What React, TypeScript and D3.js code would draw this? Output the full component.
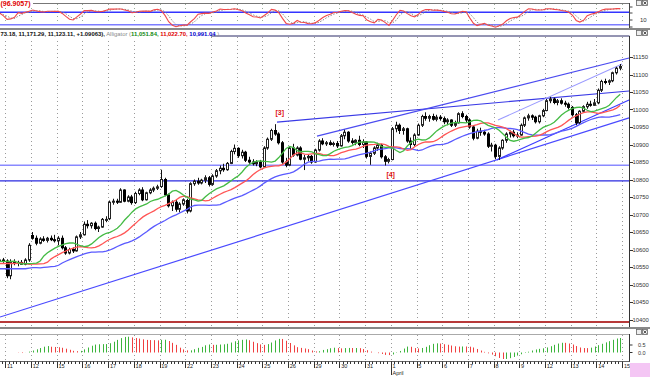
import React from "react";
import * as d3 from "d3";

type Bar = [number, number, number, number]; // open, high, low, close

// hourly bars, 7 per session
const mar10: Bar[] = [
  [10566, 10574, 10558, 10570], [10570, 10576, 10562, 10567],
];
const week1: Bar[] = [
  // Mar 11
  [10567, 10572, 10518, 10525], [10525, 10572, 10515, 10565], [10565, 10572, 10555, 10560], [10560, 10568, 10552, 10563],
  [10563, 10570, 10556, 10558], [10558, 10575, 10555, 10570], [10570, 10618, 10565, 10612],
  // Mar 12
  [10640, 10650, 10628, 10632], [10632, 10640, 10612, 10618], [10618, 10635, 10615, 10630], [10630, 10638, 10622, 10626],
  [10626, 10636, 10620, 10632], [10632, 10640, 10624, 10628], [10628, 10642, 10620, 10625],
];
const week2: Bar[] = [
  // Mar 15
  [10625, 10638, 10612, 10632], [10632, 10640, 10600, 10605], [10605, 10610, 10585, 10590], [10590, 10605, 10586, 10600],
  [10600, 10606, 10590, 10596], [10596, 10640, 10594, 10636], [10636, 10650, 10630, 10642],
  // Mar 16
  [10642, 10680, 10640, 10672], [10672, 10684, 10660, 10668], [10668, 10678, 10660, 10675], [10675, 10680, 10655, 10660],
  [10660, 10668, 10650, 10664], [10664, 10690, 10662, 10686], [10686, 10695, 10678, 10686],
  // Mar 17
  [10688, 10740, 10684, 10735], [10735, 10745, 10728, 10738], [10738, 10745, 10730, 10735], [10735, 10775, 10733, 10770],
  [10770, 10772, 10735, 10738], [10738, 10755, 10735, 10750], [10750, 10756, 10728, 10734],
  // Mar 18
  [10734, 10765, 10730, 10760], [10760, 10775, 10755, 10770], [10770, 10778, 10738, 10742], [10742, 10765, 10740, 10762],
  [10762, 10775, 10758, 10770], [10770, 10780, 10764, 10775], [10775, 10785, 10770, 10779],
  // Mar 19
  [10780, 10828, 10776, 10800], [10800, 10805, 10752, 10756], [10756, 10760, 10720, 10725], [10725, 10740, 10710, 10735],
  [10735, 10742, 10708, 10715], [10715, 10735, 10706, 10730], [10730, 10746, 10725, 10742],
];
const week3: Bar[] = [
  // Mar 22
  [10740, 10745, 10703, 10710], [10710, 10792, 10706, 10788], [10788, 10800, 10782, 10795], [10795, 10805, 10785, 10790],
  [10790, 10802, 10786, 10798], [10798, 10812, 10790, 10805], [10805, 10810, 10780, 10786],
  // Mar 23
  [10786, 10815, 10782, 10810], [10810, 10830, 10805, 10825], [10825, 10840, 10815, 10832], [10832, 10845, 10822, 10828],
  [10828, 10850, 10825, 10846], [10846, 10885, 10844, 10880], [10880, 10900, 10872, 10889],
  // Mar 24
  [10889, 10892, 10862, 10868], [10868, 10885, 10860, 10878], [10878, 10882, 10850, 10855], [10855, 10865, 10845, 10850],
  [10850, 10858, 10840, 10845], [10845, 10855, 10838, 10850], [10850, 10856, 10832, 10836],
  // Mar 25
  [10836, 10895, 10835, 10890], [10890, 10920, 10885, 10915], [10915, 10945, 10910, 10940], [10940, 10958, 10925, 10930],
  [10930, 10935, 10900, 10905], [10905, 10910, 10845, 10850], [10850, 10862, 10835, 10841],
  // Mar 26
  [10841, 10895, 10838, 10890], [10890, 10902, 10865, 10870], [10870, 10895, 10866, 10890], [10890, 10895, 10855, 10858],
  [10858, 10870, 10827, 10862], [10862, 10872, 10852, 10866], [10866, 10870, 10845, 10850],
];
const week4: Bar[] = [
  // Mar 29
  [10850, 10888, 10848, 10884], [10884, 10915, 10880, 10910], [10910, 10918, 10898, 10902], [10902, 10910, 10896, 10905],
  [10905, 10912, 10897, 10900], [10900, 10908, 10894, 10903], [10903, 10910, 10890, 10896],
  // Mar 30
  [10896, 10930, 10894, 10925], [10925, 10942, 10915, 10935], [10935, 10938, 10905, 10910], [10910, 10918, 10900, 10906],
  [10906, 10915, 10898, 10912], [10912, 10925, 10895, 10900], [10900, 10915, 10890, 10907],
  // Mar 31
  [10907, 10910, 10860, 10866], [10866, 10880, 10842, 10875], [10875, 10895, 10870, 10890], [10890, 10905, 10882, 10898],
  [10898, 10902, 10860, 10865], [10865, 10870, 10840, 10852], [10852, 10862, 10846, 10857],
  // Apr 1
  [10857, 10950, 10855, 10945], [10945, 10965, 10935, 10955], [10955, 10960, 10930, 10940], [10940, 10950, 10928, 10945],
  [10945, 10948, 10905, 10910], [10910, 10920, 10888, 10900], [10900, 10932, 10895, 10927],
];
const week5: Bar[] = [
  // Apr 5
  [10927, 10960, 10925, 10955], [10955, 10985, 10950, 10980], [10980, 10992, 10968, 10975], [10975, 10985, 10965, 10980],
  [10980, 10988, 10968, 10972], [10972, 10985, 10966, 10978], [10978, 10984, 10968, 10974],
  // Apr 6
  [10974, 10980, 10958, 10965], [10965, 10975, 10955, 10970], [10970, 10972, 10950, 10955], [10955, 10968, 10950, 10962],
  [10962, 10992, 10960, 10988], [10988, 10995, 10975, 10980], [10980, 10985, 10962, 10970],
  // Apr 7
  [10970, 10975, 10945, 10950], [10950, 10955, 10912, 10918], [10918, 10945, 10915, 10938], [10938, 10948, 10925, 10935],
  [10935, 10942, 10925, 10930], [10930, 10935, 10890, 10895], [10895, 10905, 10880, 10898],
  // Apr 8
  [10898, 10902, 10858, 10866], [10866, 10895, 10856, 10890], [10890, 10915, 10885, 10912], [10912, 10935, 10905, 10930],
  [10930, 10940, 10920, 10935], [10935, 10942, 10920, 10925], [10925, 10935, 10918, 10927],
  // Apr 9
  [10927, 10960, 10925, 10955], [10955, 10980, 10950, 10976], [10976, 10988, 10968, 10982], [10982, 10986, 10970, 10978],
  [10978, 10982, 10960, 10965], [10965, 10985, 10960, 10982], [10982, 11002, 10978, 10997],
];
const week6: Bar[] = [
  // Apr 12
  [10997, 11030, 10995, 11025], [11025, 11036, 11018, 11030], [11030, 11034, 11015, 11020], [11020, 11030, 11012, 11025],
  [11025, 11032, 11014, 11018], [11018, 11025, 11008, 11015], [11015, 11020, 11000, 11006],
  // Apr 13
  [11006, 11010, 10980, 10985], [10985, 10990, 10955, 10962], [10962, 10998, 10958, 10995], [10995, 11012, 10990, 11008],
  [11008, 11022, 11002, 11015], [11015, 11025, 11008, 11012], [11012, 11030, 11010, 11019],
  // Apr 14
  [11019, 11060, 11015, 11055], [11055, 11085, 11050, 11080], [11080, 11088, 11072, 11078], [11078, 11086, 11070, 11082],
  [11082, 11108, 11078, 11105], [11105, 11122, 11100, 11118], [11118, 11130, 11112, 11123],
];

const bars: Bar[] = [...mar10, ...week1, ...week2, ...week3, ...week4, ...week5, ...week6];
const OFF = mar10.length;

const dayLabels = ["11", "12", "15", "16", "17", "18", "19", "22", "23", "24", "25", "26", "29", "30", "31", "1", "5", "6", "7", "8", "9", "12", "13", "14", "15"];
const priceTicks = [10400, 10450, 10500, 10550, 10600, 10650, 10700, 10750, 10800, 10850, 10900, 10950, 11000, 11050, 11100, 11150];
const levels = [10841, 10796, 10393];
// [slot0, price0, slot1, price1]
const trendLines: [number, number, number, number][] = [
  [-1.44, 10407, 169.9, 10976],
  [74.0, 10964, 169.9, 11053],
  [84.9, 10924, 169.9, 11147],
  [134.2, 10970, 168.0, 11130],
  [133.9, 10856, 169.9, 11027],
];
const alligatorSeed = [10545, 10560, 10566]; // jaw, teeth, lips
const markers = [{ text: "[3]", slot: 73.6, price: 10985 }, { text: "[4]", slot: 103.8, price: 10808 }];
const headerParts = [
  { text: "73.18, 11,171.29, 11,123.11, +1.09063),", kind: "main" },
  { text: " Alligator (", kind: "muted" },
  { text: "11,051.84,", kind: "lips" },
  { text: " 11,022.70,", kind: "teeth" },
  { text: " 10,991.04", kind: "jaw" },
  { text: " )", kind: "muted" },
];

const levelStyle = [
  { color: "#8a8aff", w: 1.5 },
  { color: "#2a2ae0", w: 1.3 },
  { color: "#b83a3a", w: 2 },
];
const lineStyle = [
  { color: "#4a4aff", w: 1.2 },
  { color: "#3a3ae6", w: 1.1 },
  { color: "#4b4bf0", w: 1.1 },
  { color: "#9a9aff", w: 1.1 },
  { color: "#3d3dff", w: 1.2 },
];
const headerColor: Record<string, string> = { main: "#111", muted: "#8a8a8a", lips: "#118811", teeth: "#e00000", jaw: "#0000cc" };

// ---- indicators ----
const med = bars.map((b) => (b[1] + b[2]) / 2);
function smma(n: number, seed: number) {
  const out: number[] = [];
  let prev = seed;
  med.forEach((m) => {
    prev = (prev * (n - 1) + m) / n;
    out.push(prev);
  });
  return out;
}
function shifted(arr: number[], s: number, seed: number) {
  return arr.map((_, i) => (i - s >= 0 ? arr[i - s] : seed));
}
const jaw = shifted(smma(13, alligatorSeed[0]), 8, alligatorSeed[0]);
const teeth = shifted(smma(8, alligatorSeed[1]), 5, alligatorSeed[1]);
const lips = shifted(smma(5, alligatorSeed[2]), 3, alligatorSeed[2]);

function sma(arr: number[], n: number) {
  return arr.map((_, i) => d3.mean(arr.slice(Math.max(0, i - n + 1), i + 1)) as number);
}
const sma5 = sma(med, 5);
const sma34 = sma(med, 34);
const ao = sma5.map((v, i) => v - sma34[i]);

const rawK = bars.map((b, i) => {
  const w = bars.slice(Math.max(0, i - 13), i + 1);
  const hh = d3.max(w, (x) => x[1]) as number;
  const ll = d3.min(w, (x) => x[2]) as number;
  return hh === ll ? 50 : ((b[3] - ll) / (hh - ll)) * 100;
});
const stochK = sma(rawK, 3);
const stochD = sma(stochK, 3);

// ---- scales ----
const xs = d3.scaleLinear().domain([0, 168]).range([5.3, 622.1]);
const cx = (k: number) => xs(k - OFF + 0.5);
const ys = d3.scaleLinear().domain([10400, 11150]).range([319.5, 57]);
const ysto = d3.scaleLinear().domain([0, 100]).range([29, 8]);
const yao = d3.scaleLinear().domain([0, 50]).range([352.5, 345]);

const AX = 629.5;
const FONT = "'Liberation Sans', Arial, sans-serif";

export default function App() {
  const lineGen = (vals: number[], y: (v: number) => number) =>
    d3.line<number>().x((_, i) => cx(i)).y((v) => y(v))(vals) || "";

  const daySlots = dayLabels.map((_, d) => d * 7);

  return (
    <svg width={650} height={377} style={{ position: "fixed", left: 0, top: 0, background: "#fff" }}
      xmlns="http://www.w3.org/2000/svg">
      <defs>
        <clipPath id="cMain"><rect x={0} y={36} width={AX} height={291} /></clipPath>
        <clipPath id="cTop"><rect x={0} y={4} width={AX} height={24} /></clipPath>
        <clipPath id="cAo"><rect x={0} y={335} width={AX} height={26} /></clipPath>
      </defs>
      <rect width={650} height={377} fill="#fff" />

      {/* ====== top stochastic panel ====== */}
      <line x1={0} x2={AX} y1={3.5} y2={3.5} stroke="#777" />
      <g clipPath="url(#cTop)">
        {daySlots.map((s, i) => (
          <line key={i} x1={Math.round(xs(s)) + 0.5} x2={Math.round(xs(s)) + 0.5} y1={4} y2={28} stroke="#9a9" strokeDasharray="1,3" />
        ))}
        <line x1={0} x2={AX} y1={ysto(80)} y2={ysto(80)} stroke="#3434ff" strokeWidth={1.4} />
        <line x1={0} x2={AX} y1={ysto(20)} y2={ysto(20)} stroke="#7d7dff" strokeWidth={1.4} />
        <path d={lineGen(stochD, ysto)} fill="none" stroke="#888" strokeWidth={1} strokeDasharray="1.5,1.5" />
        <path d={lineGen(stochK, ysto)} fill="none" stroke="#f04a4a" strokeWidth={1.1} />
      </g>
      <line x1={AX} x2={AX} y1={3} y2={29} stroke="#444" />
      {[7, 13, 20, 27].map((y) => <line key={y} x1={AX} x2={AX + 3} y1={y} y2={y} stroke="#444" />)}
      <text x={640} y={22} fontSize={6} fontFamily={FONT} fill="#333">10</text>
      <rect x={0} y={0} width={33} height={7} fill="#fff" />
      <text x={0.5} y={6} fontSize={7} fontWeight="bold" fontFamily={FONT} fill="#e00000">(96.9057)</text>
      <line x1={0} x2={650} y1={29} y2={29} stroke="#888" strokeWidth={2} />

      {/* ====== main panel ====== */}
      <line x1={0} x2={AX} y1={36} y2={36} stroke="#2a2a66" />
      <g clipPath="url(#cMain)">
        {daySlots.map((s, i) => (
          <line key={i} x1={Math.round(xs(s)) + 0.5} x2={Math.round(xs(s)) + 0.5} y1={37} y2={327} stroke="#9a9a9a" strokeDasharray="1,3" />
        ))}
        {levels.map((p, i) => (
          <line key={i} x1={0} x2={AX} y1={ys(p)} y2={ys(p)} stroke={levelStyle[i].color} strokeWidth={levelStyle[i].w} />
        ))}
        {trendLines.map((t, i) => (
          <line key={i} x1={xs(t[0])} y1={ys(t[1])} x2={xs(t[2])} y2={ys(t[3])} stroke={lineStyle[i].color} strokeWidth={lineStyle[i].w} />
        ))}
        {/* candles */}
        {bars.map((b, k) => {
          const c = Math.round(cx(k) - 0.5);
          const up = b[3] >= b[0];
          const top = ys(Math.max(b[0], b[3]));
          const bot = ys(Math.min(b[0], b[3]));
          const h = Math.max(1, bot - top);
          return (
            <g key={k}>
              <line x1={c + 0.5} x2={c + 0.5} y1={ys(b[1])} y2={ys(b[2])} stroke="#111" strokeWidth={1} />
              {up ? (
                <rect x={c - 0.5} y={top} width={2} height={h} fill="#fff" stroke="#222" strokeWidth={1} />
              ) : (
                <rect x={c - 1} y={top - 0.5} width={3} height={h + 1} fill="#000" />
              )}
            </g>
          );
        })}
        {/* alligator */}
        <path d={lineGen(jaw, ys)} fill="none" stroke="#5a5aff" strokeWidth={1.3} />
        <path d={lineGen(teeth, ys)} fill="none" stroke="#ff5555" strokeWidth={1.3} />
        <path d={lineGen(lips, ys)} fill="none" stroke="#44bb44" strokeWidth={1.3} />
        {markers.map((m) => (
          <text key={m.text} x={xs(m.slot)} y={ys(m.price)} fontSize={7} fontWeight="bold" fontFamily={FONT} fill="#dd1111">{m.text}</text>
        ))}
      </g>
      {/* header text */}
      <rect x={0} y={30} width={211} height={8} fill="#fff" />
      <text x={0.5} y={36.3} fontSize={5.9} fontWeight="bold" fontFamily={FONT} xmlSpace="preserve">
        {headerParts.map((h, i) => (
          <tspan key={i} fill={headerColor[h.kind]} fontWeight={h.kind === "muted" ? "normal" : "bold"}>{h.text}</tspan>
        ))}
      </text>
      {/* right price axis */}
      <line x1={AX} x2={AX} y1={36} y2={328} stroke="#333" />
      {priceTicks.map((p) => (
        <g key={p}>
          <line x1={AX} x2={AX + 3.5} y1={Math.round(ys(p)) + 0.5} y2={Math.round(ys(p)) + 0.5} stroke="#333" />
          <text x={632.5} y={ys(p) + 2.2} fontSize={5.9} fontFamily={FONT} fill="#333">{p}</text>
        </g>
      ))}
      <line x1={0} x2={650} y1={328} y2={328} stroke="#888" strokeWidth={2} />

      {/* ====== AO panel ====== */}
      <line x1={0} x2={AX} y1={334.5} y2={334.5} stroke="#aaa" />
      <g clipPath="url(#cAo)">
        {daySlots.map((s, i) => (
          <line key={i} x1={Math.round(xs(s)) + 0.5} x2={Math.round(xs(s)) + 0.5} y1={335} y2={361} stroke="#9a9a9a" strokeDasharray="1,3" />
        ))}
        {ao.map((v, k) => {
          const up = k === 0 ? v >= 0 : v >= ao[k - 1];
          const x = Math.round(cx(k)) + 0.5;
          return <line key={k} x1={x} x2={x} y1={yao(0)} y2={yao(v)} stroke={up ? "#3cb43c" : "#f04040"} strokeWidth={1} />;
        })}
      </g>
      <line x1={AX} x2={AX} y1={334} y2={362} stroke="#333" />
      <line x1={AX} x2={AX + 3} y1={yao(50)} y2={yao(50)} stroke="#333" />
      <line x1={AX} x2={AX + 3} y1={yao(0)} y2={yao(0)} stroke="#333" />
      <text x={638} y={yao(50) + 2} fontSize={5.5} fontFamily={FONT} fill="#333">0.5</text>
      <text x={638} y={yao(0) + 2} fontSize={5.5} fontFamily={FONT} fill="#333">0.0</text>

      {/* ====== x axis ====== */}
      <line x1={0} x2={AX} y1={361.5} y2={361.5} stroke="#666" />
      {d3.range(-2, 169).map((s) => {
        const x = Math.round(xs(s)) + 0.5;
        const major = s >= 0 && s % 7 === 0;
        return <line key={s} x1={x} x2={x} y1={361.5} y2={major ? 368 : 364} stroke="#333" />;
      })}
      {dayLabels.map((l, d) => (
        <text key={d} x={xs(d * 7) + 1.8} y={367.5} fontSize={5.5} fontFamily={FONT} fill="#222">{l}</text>
      ))}
      <line x1={Math.round(xs(105)) + 0.5} x2={Math.round(xs(105)) + 0.5} y1={361.5} y2={375} stroke="#333" />
      <text x={xs(105) + 1.8} y={374.5} fontSize={5.5} fontFamily={FONT} fill="#222">April</text>

      {/* window buttons */}
      {[0.5, 30.5, 329.5].map((y) => (
        <g key={y}>
          <rect x={636.5} y={y} width={5} height={5} fill="#eee" stroke="#666" strokeWidth={0.8} />
          <rect x={642.5} y={y} width={5} height={5} fill="#eee" stroke="#666" strokeWidth={0.8} />
          <line x1={643.5} y1={y + 1} x2={646.5} y2={y + 4} stroke="#333" strokeWidth={0.8} />
          <line x1={646.5} y1={y + 1} x2={643.5} y2={y + 4} stroke="#333" strokeWidth={0.8} />
        </g>
      ))}
      <rect x={630} y={363} width={20} height={14} fill="#f4c6f4" />
    </svg>
  );
}
